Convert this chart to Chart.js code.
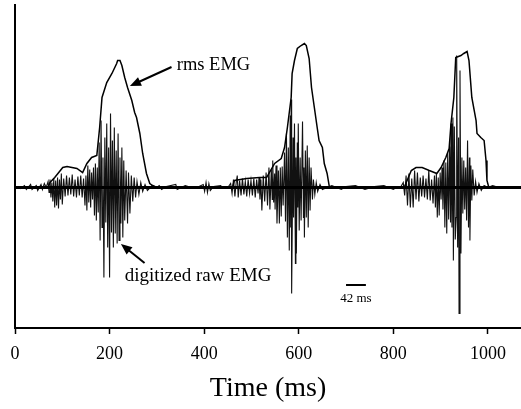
<!DOCTYPE html>
<html>
<head>
<meta charset="utf-8">
<script src="https://cdn.jsdelivr.net/npm/chart.js@4"></script>
<style>
  body { margin: 0; background: #fff; }
  #wrap { width: 521px; height: 409px; }
</style>
</head>
<body>
<div id="wrap"><canvas id="emgChart" width="521" height="409"></canvas></div>
<script>
const SERIF = "'Liberation Serif', 'Times New Roman', serif";

// axis
const xTicks = [0, 200, 400, 600, 800, 1000];
const xMax = 1070;
const yMin = -140.5;
const yMax = 182.5;

// rms EMG envelope [time ms, amplitude]
const rmsEnvelope = [
  [0, 0], [70, 0], [74, 5], [84, 10], [101, 20], [110, 21], [131, 19], [143, 15],
  [152, 24], [162, 30], [173, 32], [179, 60], [184, 90], [194, 105], [205, 114],
  [215, 124], [217, 127], [222, 127], [226, 122], [232, 110], [238, 100], [247, 87],
  [253, 75], [257, 70], [264, 54], [270, 34], [278, 14], [285, 4], [291, 2], [300, 0],
  [460, 0], [464, 7], [490, 9], [517, 10], [532, 10], [549, 24], [563, 29], [570, 40],
  [576, 60], [584, 90], [586, 114], [591, 127], [597, 139], [605, 142], [612, 144],
  [616, 142], [622, 129], [627, 100], [633, 80], [639, 60], [643, 47], [650, 40],
  [654, 24], [660, 14], [665, 0],
  [820, 0], [823, 0], [838, 17], [848, 20], [861, 20], [876, 17], [892, 14], [901, 20],
  [911, 30], [918, 39], [922, 64], [928, 90], [932, 130], [943, 132], [949, 134],
  [956, 136], [960, 127], [966, 90], [975, 67], [977, 54], [985, 50], [992, 47],
  [996, 27], [998, 7], [1002, 0], [1070, 0],
];

// digitized raw EMG [time ms, amplitude]
const rawQuiet1 = [
  [0, 0], [8, 1], [12, -1], [20, 2], [24, -2], [33, 3], [36, -2], [45, 2], [48, -3],
  [55, 3], [58, -2], [62, 4],
];
const rawBurst1 = [
  [66, 0], [70, 6], [72, -5], [74, 8], [76, -10], [78, 5], [80, -14], [82, 9], [84, -20],
  [86, 7], [88, -18], [90, 10], [92, -21], [94, 8], [96, -12], [98, 14], [100, -17],
  [103, 9], [106, -9], [109, 12], [112, -8], [115, 10], [118, -7], [121, 13], [124, -9],
  [127, 8], [130, -10], [133, 11], [136, -8], [139, 12], [142, -10], [145, 9], [148, -18],
  [150, 12], [152, -23], [154, 22], [156, -15], [158, 18], [160, -20], [162, 15],
  [164, -12], [166, 20], [168, -28], [170, 24], [172, -33], [174, 20], [176, -25],
  [178, 45], [180, -53], [182, 67], [184, -40], [186, 30], [188, -90], [190, 50],
  [192, -35], [194, 64], [196, -60], [198, 40], [200, -90], [202, 74], [204, -45],
  [206, 47], [208, -60], [210, 60], [212, -46], [214, 37], [216, -56], [218, 54],
  [220, -53], [222, 30], [224, -36], [226, 40], [228, -50], [230, 27], [232, -33],
  [235, 17], [238, -36], [240, 15], [243, -26], [246, 12], [249, -14], [252, 10],
  [255, -10], [258, 6], [262, -7], [266, 5], [270, -4], [275, 3], [280, -3], [290, 2],
  [300, 0],
];
const rawQuiet2 = [
  [305, 2], [310, -2], [320, 1], [340, 3], [343, -2], [360, 2], [380, -1], [398, 3],
  [401, -4], [404, 5], [407, -5], [410, 4], [413, -3], [420, 1], [435, 2], [440, -1],
];
const rawBurst2 = [
  [450, 0], [456, 4], [459, -6], [462, 8], [465, -9], [468, 6], [470, 12], [472, -10],
  [475, 7], [478, -8], [481, 9], [484, -7], [487, 6], [490, -9], [493, 8], [496, -6],
  [499, 7], [502, -8], [505, 9], [508, -10], [511, 8], [514, -6], [516, 10], [518, -12],
  [520, 8], [522, -23], [525, 12], [528, -14], [531, 15], [534, -18], [537, 20],
  [539, -22], [542, 18], [544, -12], [545, 27], [547, -15], [549, 14], [550, -22],
  [552, 22], [554, -36], [557, 17], [559, -36], [561, 20], [563, -29], [565, 21],
  [567, -18], [570, 35], [572, -34], [574, 54], [576, -50], [578, 40], [580, -63],
  [582, 72], [583, -40], [584, 88], [585, -106], [588, 50], [589, -30], [591, 64],
  [593, -76], [594, 30], [595, -66], [597, 45], [598, -20], [599, 64], [601, -43],
  [603, 30], [605, -33], [608, 66], [610, -30], [611, 20], [612, -50], [614, 37],
  [616, -30], [618, 42], [620, -40], [622, 30], [624, -23], [626, 20], [629, -12],
  [631, 8], [634, -7], [637, 5], [640, -4], [645, 3], [650, -2], [660, 0],
];
const rawQuiet3 = [
  [670, 2], [690, -2], [700, 1], [720, 2], [740, -2], [760, 1], [780, 2], [800, -2],
  [810, 1],
];
const rawBurst3 = [
  [815, 0], [821, 5], [824, -8], [827, 12], [830, -18], [833, 14], [836, -20], [839, 9],
  [842, -20], [845, 17], [848, -12], [851, 15], [854, -14], [857, 10], [860, -9],
  [863, 12], [866, -10], [869, 9], [872, -12], [875, 17], [878, -13], [881, 8],
  [884, -16], [887, 12], [889, -20], [891, 14], [893, -30], [895, 10], [897, -28],
  [899, 15], [901, -12], [903, 20], [905, -22], [907, 27], [909, -40], [911, 25],
  [913, -46], [915, 35], [917, -32], [919, 41], [921, -35], [922, 64], [924, -40],
  [926, 70], [927, -73], [929, 61], [931, -52], [933, -30], [934, 132], [936, -60],
  [938, 50], [939, -126], [941, 117], [943, -66], [945, 30], [947, -26], [949, 27],
  [951, -22], [953, 20], [955, -33], [957, 47], [959, -40], [961, 30], [962, -53],
  [964, 22], [966, -13], [968, 18], [971, -8], [974, 6], [977, -5], [981, 4],
  [986, -3], [992, 2], [1000, 0],
];
const rawQuiet4 = [[1010, 2], [1030, -1], [1050, 1], [1070, 0]];

const baseline = [[0, 0], [1070, 0]];

// annotations, in data units
const notes = [
  { text: "rms EMG", t: 342, v: 122, size: 18.5 },
  { text: "digitized raw EMG", t: 232, v: -88.5, size: 19 },
  { text: "42 ms", t: 721, v: -111.5, size: 13, center: true },
];
const arrows = [
  { from: [331, 120.5], to: [243, 101.5] },
  { from: [274, -75.5], to: [224, -56.5] },
];
const scaleBar = { t: 700, len: 42, v: -97.5 };

function toPoints(pairs) {
  return pairs.map(([x, y]) => ({ x, y }));
}

const annotationPlugin = {
  id: "emgNotes",
  afterDatasetsDraw(chart) {
    const { ctx, scales } = chart;
    const px = (t) => scales.x.getPixelForValue(t);
    const py = (v) => scales.y.getPixelForValue(v);

    ctx.save();
    ctx.fillStyle = "#000";
    ctx.strokeStyle = "#000";
    ctx.textBaseline = "middle";

    notes.forEach((n) => {
      ctx.font = `${n.size}px ${SERIF}`;
      ctx.textAlign = n.center ? "center" : "left";
      ctx.fillText(n.text, px(n.t), py(n.v));
    });

    arrows.forEach((a) => {
      const x1 = px(a.from[0]), y1 = py(a.from[1]);
      const x2 = px(a.to[0]), y2 = py(a.to[1]);
      const ang = Math.atan2(y2 - y1, x2 - x1);
      const head = 12;
      ctx.lineWidth = 2;
      ctx.beginPath();
      ctx.moveTo(x1, y1);
      ctx.lineTo(x2 - Math.cos(ang) * head * 0.8, y2 - Math.sin(ang) * head * 0.8);
      ctx.stroke();
      ctx.beginPath();
      ctx.moveTo(x2, y2);
      ctx.lineTo(x2 - head * Math.cos(ang - 0.4), y2 - head * Math.sin(ang - 0.4));
      ctx.lineTo(x2 - head * Math.cos(ang + 0.4), y2 - head * Math.sin(ang + 0.4));
      ctx.closePath();
      ctx.fill();
    });

    ctx.lineWidth = 2;
    ctx.beginPath();
    ctx.moveTo(px(scaleBar.t), py(scaleBar.v));
    ctx.lineTo(px(scaleBar.t + scaleBar.len), py(scaleBar.v));
    ctx.stroke();
    ctx.restore();
  },
};

const rawEmg = [
  ...rawQuiet1, ...rawBurst1, ...rawQuiet2, ...rawBurst2,
  ...rawQuiet3, ...rawBurst3, ...rawQuiet4,
];

new Chart(document.getElementById("emgChart"), {
  type: "line",
  data: {
    datasets: [
      {
        label: "baseline",
        data: toPoints(baseline),
        borderColor: "#000",
        borderWidth: 3,
      },
      {
        label: "rms EMG",
        data: toPoints(rmsEnvelope),
        borderColor: "#000",
        borderWidth: 1.5,
      },
      {
        label: "digitized raw EMG",
        data: toPoints(rawEmg),
        borderColor: "#111",
        borderWidth: 1.1,
      },
    ],
  },
  options: {
    responsive: false,
    animation: false,
    layout: { padding: { left: 15, top: 5, right: 0, bottom: 0 } },
    elements: { point: { radius: 0 }, line: { tension: 0 } },
    plugins: { legend: { display: false }, tooltip: { enabled: false } },
    scales: {
      x: {
        type: "linear",
        min: 0,
        max: xMax,
        afterBuildTicks: (scale) => {
          scale.ticks = xTicks.map((value) => ({ value }));
        },
        afterFit: (scale) => {
          scale.height = 81;
        },
        grid: {
          drawOnChartArea: false,
          drawTicks: true,
          tickLength: 6,
          color: "#000",
          tickWidth: 1.5,
        },
        border: { color: "#000", width: 2 },
        ticks: {
          color: "#000",
          font: { family: SERIF, size: 18 },
          padding: 9,
          maxRotation: 0,
          callback: (value) => String(value),
        },
        title: {
          display: true,
          text: "Time (ms)",
          color: "#000",
          font: { family: SERIF, size: 28 },
          padding: { top: 0, bottom: 4 },
        },
      },
      y: {
        min: yMin,
        max: yMax,
        ticks: { display: false },
        grid: { drawOnChartArea: false, drawTicks: false },
        border: { color: "#000", width: 2 },
        afterFit: (scale) => {
          scale.width = 0;
        },
      },
    },
  },
  plugins: [annotationPlugin],
});
</script>
</body>
</html>
